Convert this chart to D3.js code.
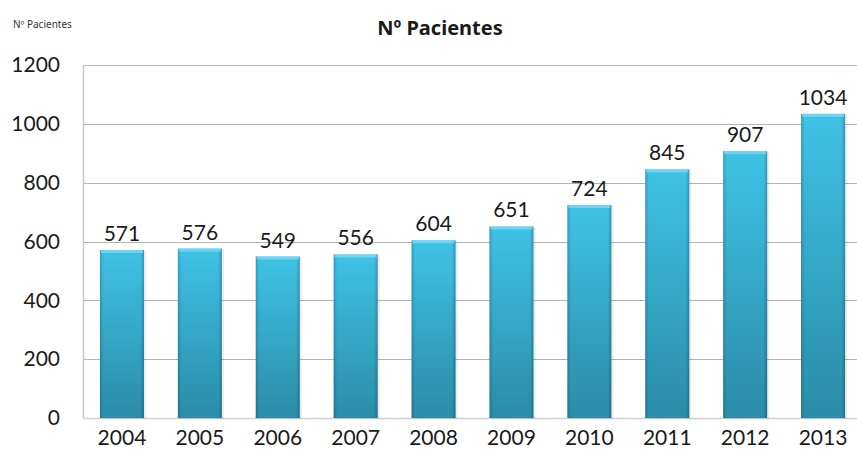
<!DOCTYPE html>
<html>
<head>
<meta charset="utf-8">
<script src="https://cdn.jsdelivr.net/npm/d3@7"></script>
<style>
body { margin: 0; background: #fff; }
svg { display: block; font-family: Lato, "Open Sans", sans-serif; }
</style>
</head>
<body>
<script>
var years = ["2004","2005","2006","2007","2008","2009","2010","2011","2012","2013"];
var pacientes = [571, 576, 549, 556, 604, 651, 724, 845, 907, 1034];
var yTicks = [0, 200, 400, 600, 800, 1000, 1200];

var W = 857, H = 460;
var margin = {top: 65, right: -5, bottom: 42, left: 83};
var width = W - margin.left - margin.right;
var height = H - margin.top - margin.bottom;

var svg = d3.select("body").append("svg")
    .attr("width", W)
    .attr("height", H);

var defs = svg.append("defs");
var grad = defs.append("linearGradient").attr("id", "barGrad")
    .attr("x1", 0).attr("y1", 0).attr("x2", 0).attr("y2", 1);
grad.append("stop").attr("offset", "0%").attr("stop-color", "#3fc2e6");
grad.append("stop").attr("offset", "100%").attr("stop-color", "#2a8ca8");

var sideGrad = defs.append("linearGradient").attr("id", "sideGrad")
    .attr("x1", 0).attr("y1", 0).attr("x2", 1).attr("y2", 0);
sideGrad.append("stop").attr("offset", "0%").attr("stop-color", "#000").attr("stop-opacity", 0.18);
sideGrad.append("stop").attr("offset", "8%").attr("stop-color", "#000").attr("stop-opacity", 0);
sideGrad.append("stop").attr("offset", "92%").attr("stop-color", "#000").attr("stop-opacity", 0);
sideGrad.append("stop").attr("offset", "100%").attr("stop-color", "#000").attr("stop-opacity", 0.22);

var g = svg.append("g")
    .attr("transform", "translate(" + margin.left + "," + margin.top + ")");

var x = d3.scaleBand().domain(years).range([0, width]).paddingInner(0.435).paddingOuter(0.2175);
var y = d3.scaleLinear().domain([0, 1200]).range([height, 0]);

// gridlines
g.selectAll(".grid")
    .data(yTicks.filter(function(d){ return d > 0; }))
    .enter().append("line")
    .attr("x1", 0).attr("x2", width)
    .attr("y1", function(d){ return Math.round(y(d)) + 0.5; })
    .attr("y2", function(d){ return Math.round(y(d)) + 0.5; })
    .attr("stroke", "#b3b3b3");

// axis frame
g.append("line").attr("x1", 0.5).attr("x2", 0.5).attr("y1", 0).attr("y2", height)
    .attr("stroke", "#c6c6c6").attr("stroke-width", 1.5);
g.append("line").attr("x1", 0).attr("x2", width)
    .attr("y1", height + 0.5).attr("y2", height + 0.5)
    .attr("stroke", "#d0d0d0").attr("stroke-width", 1.5);

// bar shadows
g.selectAll(".shadow")
    .data(pacientes)
    .enter().append("rect")
    .attr("x", function(d, i){ return x(years[i]) + 1; })
    .attr("y", function(d){ return y(d) + 1; })
    .attr("width", x.bandwidth() + 1)
    .attr("height", function(d){ return height - y(d); })
    .attr("fill", "#000").attr("opacity", 0.08);

// bars
g.selectAll(".bar")
    .data(pacientes)
    .enter().append("rect")
    .attr("class", "bar")
    .attr("x", function(d, i){ return x(years[i]); })
    .attr("y", function(d){ return y(d); })
    .attr("width", x.bandwidth())
    .attr("height", function(d){ return height - y(d); })
    .attr("fill", "url(#barGrad)");

g.selectAll(".bevel")
    .data(pacientes)
    .enter().append("rect")
    .attr("x", function(d, i){ return x(years[i]); })
    .attr("y", function(d){ return y(d); })
    .attr("width", x.bandwidth())
    .attr("height", function(d){ return height - y(d); })
    .attr("fill", "url(#sideGrad)");

// top highlight
g.selectAll(".hl")
    .data(pacientes)
    .enter().append("rect")
    .attr("x", function(d, i){ return x(years[i]) + 1; })
    .attr("y", function(d){ return y(d); })
    .attr("width", x.bandwidth() - 2)
    .attr("height", 3)
    .attr("fill", "#7ad9f2").attr("opacity", 0.8);

// value labels
g.selectAll(".lbl")
    .data(pacientes)
    .enter().append("text")
    .attr("x", function(d, i){ return x(years[i]) + x.bandwidth() / 2; })
    .attr("y", function(d){ return y(d) - 9; })
    .attr("text-anchor", "middle")
    .attr("font-size", 21)
    .attr("fill", "#1a1a1a")
    .text(function(d){ return d; });

// y axis labels
var yAxis = d3.axisLeft(y).tickValues(yTicks).tickSize(0).tickPadding(23).tickFormat(d3.format("d"));
var yg = g.append("g").call(yAxis);
yg.select(".domain").remove();
yg.selectAll("text").attr("font-size", 21).attr("fill", "#1a1a1a").attr("font-family", "Lato, sans-serif");

// x axis labels
var xAxis = d3.axisBottom(x).tickSize(0).tickPadding(12);
var xg = g.append("g").attr("transform", "translate(0," + height + ")").call(xAxis);
xg.select(".domain").remove();
xg.selectAll("text").attr("font-size", 21).attr("fill", "#1a1a1a").attr("font-family", "Lato, sans-serif");

// titles
svg.append("text").attr("x", 440).attr("y", 35)
    .attr("text-anchor", "middle")
    .attr("font-family", "'Noto Sans', sans-serif")
    .attr("font-size", 20).attr("font-weight", "bold").attr("fill", "#1a1a1a")
    .text("Nº Pacientes");

svg.append("text").attr("x", 13).attr("y", 28)
    .attr("font-family", "'Noto Sans', sans-serif")
    .attr("font-size", 10).attr("fill", "#333")
    .text("Nº Pacientes");
</script>
</body>
</html>
